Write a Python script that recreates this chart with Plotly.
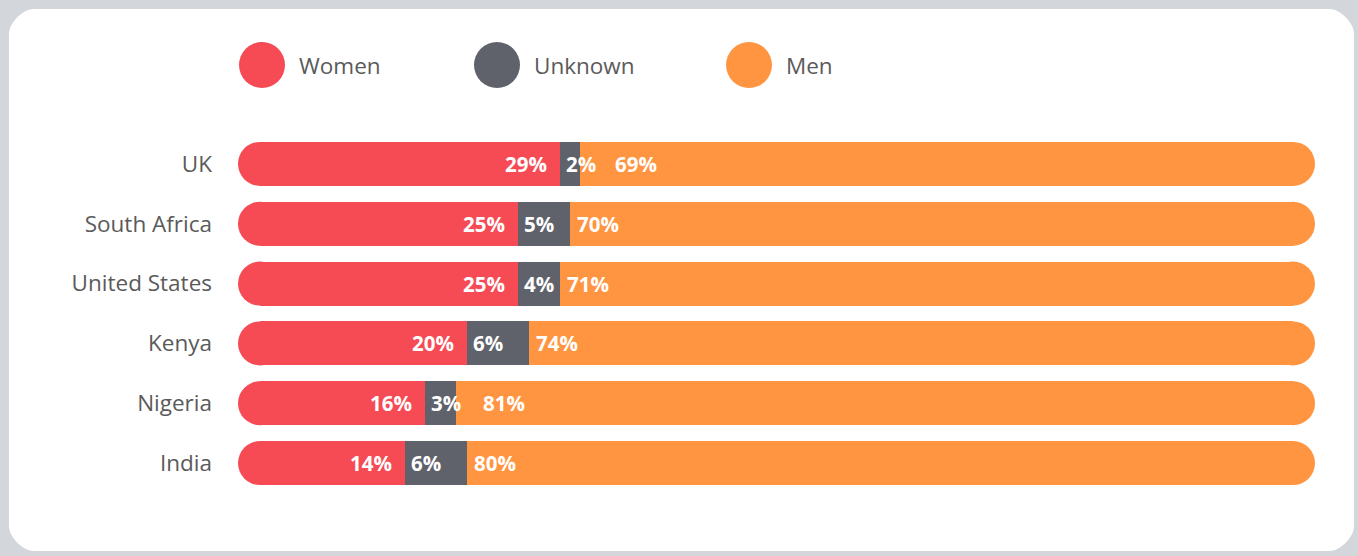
import plotly.graph_objects as go

# values (percent of each country's total)
countries = ["UK", "South Africa", "United States", "Kenya", "Nigeria", "India"]
women = [29, 25, 25, 20, 16, 14]
unknown = [2, 5, 4, 6, 3, 6]
men = [69, 70, 71, 74, 81, 80]

series_names = ["Women", "Unknown", "Men"]
colors = ["#f64a55", "#5f626b", "#ff9540"]
men_label_nudge = [28, 0, 0, 0, 20, 0]  # px, men label pushed right where it would hit the unknown label

W, H = 1358, 556
ML, MR, MT, MB = 238, 43, 134, 63
PW, PH = W - ML - MR, H - MT - MB
CAP = 22  # radius of the rounded bar ends in px
pad = CAP / (PW - 2 * CAP) * 100
TEXT = "#5a5a5a"
FONT = "Open Sans"


def fx(X):
    return (X - ML) / PW


def fy(Y):
    return 1 - (Y - MT) / PH


fig = go.Figure()

for name, vals, col in zip(series_names, [women, unknown, men], colors):
    fig.add_trace(go.Bar(
        y=countries, x=vals, name=name, orientation="h",
        marker=dict(color=col, line=dict(width=0)),
        hoverinfo="skip", showlegend=False,
    ))

# round caps at both ends of every bar
fig.add_trace(go.Scatter(
    x=[0] * len(countries), y=countries, mode="markers",
    marker=dict(color=colors[0], size=2 * CAP, line=dict(width=0)),
    hoverinfo="skip", showlegend=False,
))
fig.add_trace(go.Scatter(
    x=[100] * len(countries), y=countries, mode="markers",
    marker=dict(color=colors[2], size=2 * CAP, line=dict(width=0)),
    hoverinfo="skip", showlegend=False,
))

lab_font = dict(family=FONT, size=20.5, color="white", weight="bold")
for i, c in enumerate(countries):
    w_end = women[i]
    u_end = women[i] + unknown[i]
    fig.add_annotation(x=w_end, y=c, text=f"{women[i]}%", showarrow=False,
                       xanchor="right", xshift=-11, font=lab_font)
    fig.add_annotation(x=w_end, y=c, text=f"{unknown[i]}%", showarrow=False,
                       xanchor="left", xshift=4, font=lab_font)
    fig.add_annotation(x=u_end, y=c, text=f"{men[i]}%", showarrow=False,
                       xanchor="left", xshift=5 + men_label_nudge[i], font=lab_font)

# white rounded card on the grey frame
x0, x1, y0, y1, r = 9, 1354, 9, 551, 25
k = 0.45 * r
path = (
    f"M {fx(x0 + r)},{fy(y0)} L {fx(x1 - r)},{fy(y0)} "
    f"C {fx(x1 - r + k)},{fy(y0)} {fx(x1)},{fy(y0 + r - k)} {fx(x1)},{fy(y0 + r)} "
    f"L {fx(x1)},{fy(y1 - r)} "
    f"C {fx(x1)},{fy(y1 - r + k)} {fx(x1 - r + k)},{fy(y1)} {fx(x1 - r)},{fy(y1)} "
    f"L {fx(x0 + r)},{fy(y1)} "
    f"C {fx(x0 + r - k)},{fy(y1)} {fx(x0)},{fy(y1 - r + k)} {fx(x0)},{fy(y1 - r)} "
    f"L {fx(x0)},{fy(y0 + r)} "
    f"C {fx(x0)},{fy(y0 + r - k)} {fx(x0 + r - k)},{fy(y0)} {fx(x0 + r)},{fy(y0)} Z"
)
fig.add_shape(type="path", xref="paper", yref="paper", path=path,
              fillcolor="white", line=dict(width=0), layer="below")

# legend drawn by hand so the dots can be large
legend_x = [262, 497, 749]
for name, col, lx in zip(series_names, colors, legend_x):
    fig.add_shape(type="circle", xref="paper", yref="paper",
                  x0=fx(lx - 23), x1=fx(lx + 23), y0=fy(65 + 23), y1=fy(65 - 23),
                  fillcolor=col, line=dict(width=0))
    fig.add_annotation(xref="paper", yref="paper", x=fx(lx + 35), y=fy(65),
                       text=name, showarrow=False, xanchor="left", yanchor="middle",
                       font=dict(family=FONT, size=22.5, color=TEXT))

fig.update_layout(
    width=W, height=H,
    margin=dict(l=ML, r=MR, t=MT, b=MB),
    barmode="stack", bargap=0.264,
    paper_bgcolor="#d3d6da", plot_bgcolor="rgba(0,0,0,0)",
    showlegend=False,
    xaxis=dict(range=[-pad, 100 + pad], visible=False, fixedrange=True),
    yaxis=dict(range=[len(countries) - 0.5, -0.5], autorange=False,
               showgrid=False, zeroline=False, showline=False,
               ticks="", ticklabelstandoff=25, fixedrange=True,
               tickfont=dict(family=FONT, size=22.5, color=TEXT)),
)

fig.write_html(
    "out.html",
    config={"displayModeBar": False},
    post_script="document.body.style.margin='0';document.body.style.overflow='hidden';",
)
